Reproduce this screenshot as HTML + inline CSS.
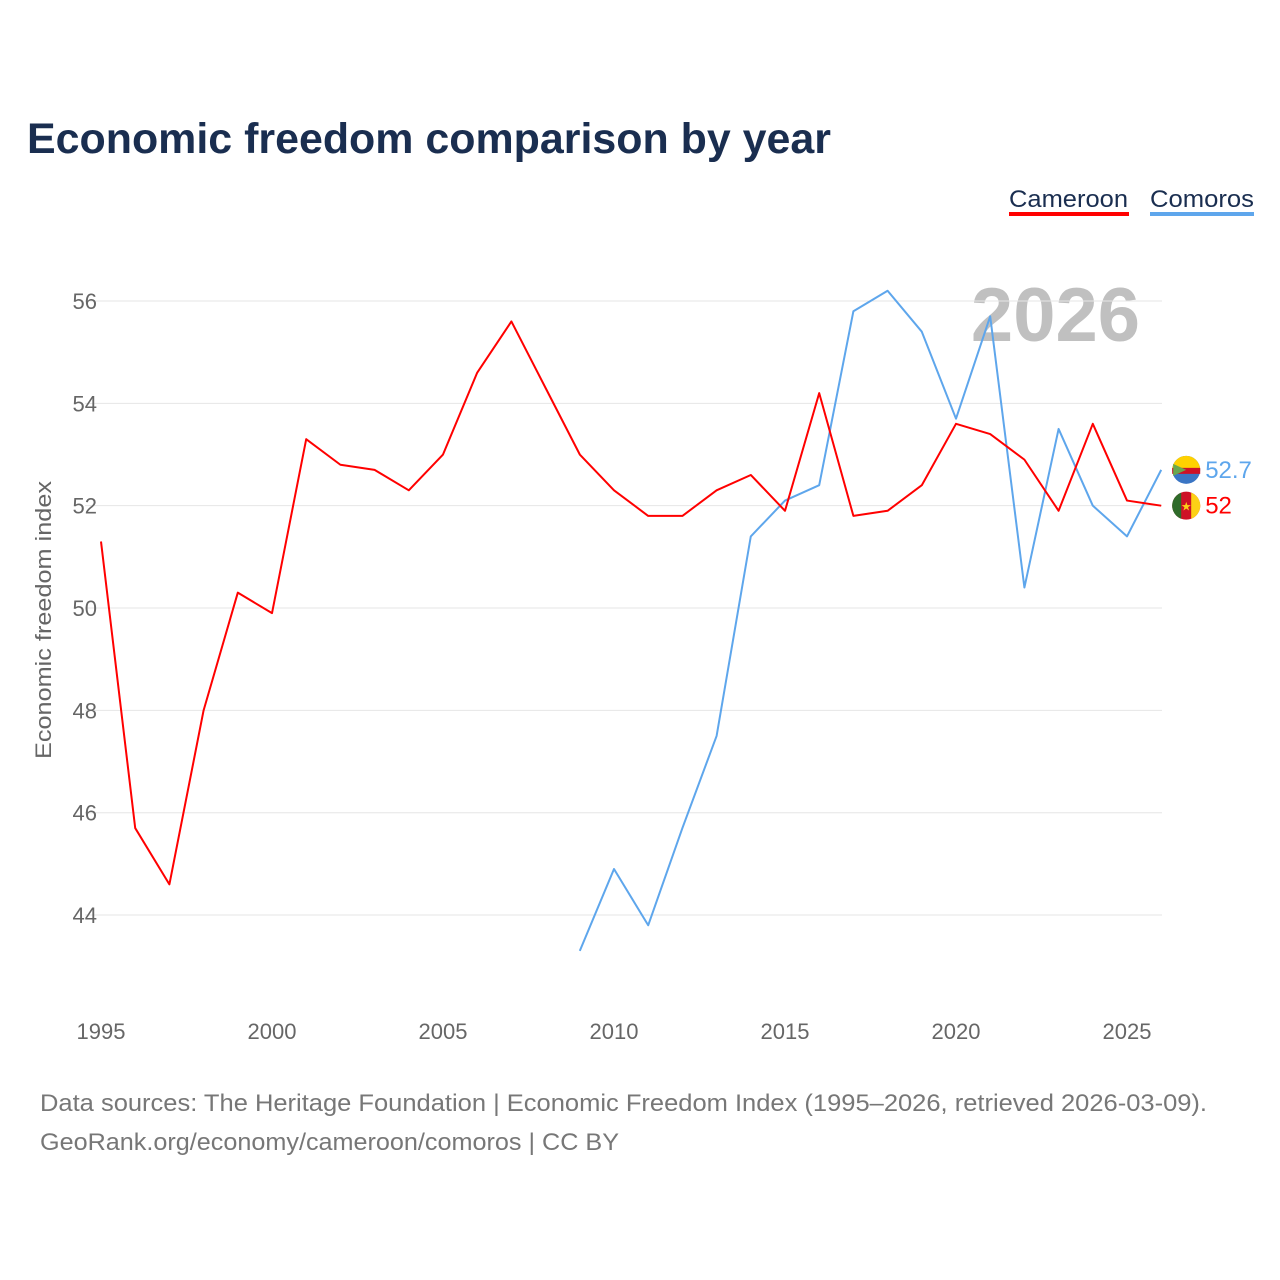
<!DOCTYPE html>
<html><head><meta charset="utf-8"><style>
body{margin:0;background:#fff;font-family:"Liberation Sans",sans-serif}
svg{display:block}
</style></head><body>
<svg id="c" width="1280" height="1280">
<text x="27" y="153" font-size="43" font-weight="bold" fill="#1a2e50" textLength="804" lengthAdjust="spacingAndGlyphs">Economic freedom comparison by year</text>
<g>
<text x="1009" y="207" font-size="24" fill="#1a2e50" textLength="119" lengthAdjust="spacingAndGlyphs">Cameroon</text>
<rect x="1009" y="212" width="120" height="4" fill="#ff0000"/>
<text x="1150" y="207" font-size="24" fill="#1a2e50" textLength="104" lengthAdjust="spacingAndGlyphs">Comoros</text>
<rect x="1150" y="212" width="104" height="4" fill="#5ea6ec"/>
</g>
<text x="1140" y="341" text-anchor="end" font-size="76" font-weight="bold" fill="#c0c0c0">2026</text>
<text transform="translate(51,620) rotate(-90)" text-anchor="middle" font-size="22" fill="#666" textLength="278" lengthAdjust="spacingAndGlyphs">Economic freedom index</text>
<g id="grid"></g><g id="lines"></g>
<text x="40" y="1111" font-size="24" fill="#777" textLength="1167" lengthAdjust="spacingAndGlyphs">Data sources: The Heritage Foundation | Economic Freedom Index (1995–2026, retrieved 2026-03-09).</text>
<text x="40" y="1150" font-size="24" fill="#777" textLength="579" lengthAdjust="spacingAndGlyphs">GeoRank.org/economy/cameroon/comoros | CC BY</text>
</svg>
<script>
const yTicks=[44,46,48,50,52,54,56];
const xTicks=[1995,2000,2005,2010,2015,2020,2025];
const camYears=[1995,1996,1997,1998,1999,2000,2001,2002,2003,2004,2005,2006,2007,2008,2009,2010,2011,2012,2013,2014,2015,2016,2017,2018,2019,2020,2021,2022,2023,2024,2025,2026];
const camVals=[51.3,45.7,44.6,48.0,50.3,49.9,53.3,52.8,52.7,52.3,53.0,54.6,55.6,54.3,53.0,52.3,51.8,51.8,52.3,52.6,51.9,54.2,51.8,51.9,52.4,53.6,53.4,52.9,51.9,53.6,52.1,52.0];
const comYears=[2009,2010,2011,2012,2013,2014,2015,2016,2017,2018,2019,2020,2021,2022,2023,2024,2025,2026];
const comVals=[43.3,44.9,43.8,45.7,47.5,51.4,52.1,52.4,55.8,56.2,55.4,53.7,55.7,50.4,53.5,52.0,51.4,52.7];
const NS="http://www.w3.org/2000/svg";
const xS=y=>101+(y-1995)*34.2;
const yS=v=>301+(56-v)*51.17;
const grid=document.getElementById('grid'),lines=document.getElementById('lines');
function mk(tag,attrs,parent,txt){const e=document.createElementNS(NS,tag);for(const k in attrs)e.setAttribute(k,attrs[k]);if(txt!==undefined)e.textContent=txt;parent.appendChild(e);return e;}
yTicks.forEach(t=>{
 const l=mk('line',{x1:85,x2:1162,y1:yS(t),y2:yS(t),stroke:'#e6e6e6','stroke-width':1},grid);
 
 
 const tx=mk('text',{x:97,y:yS(t)+8,'text-anchor':'end','font-size':22,fill:'#666'},grid,t);
 
 
});
xTicks.forEach(t=>{
 const tx=mk('text',{x:xS(t),y:1039,'text-anchor':'middle','font-size':22,fill:'#666'},grid,t);
 
 
});
function series(ys,vs,col,name){
 const p=mk('polyline',{points:ys.map((y,i)=>xS(y)+','+yS(vs[i])).join(' '),fill:'none',stroke:col,'stroke-width':2,'stroke-linejoin':'round'},lines);
 
 
 const lx=xS(ys[ys.length-1]), ly=yS(vs[vs.length-1]);
 const cx=lx+25;
 const g=mk('g',{},lines);
 
 
 if(name==='cameroon'){
  mk('circle',{cx:cx,cy:ly,r:14,fill:'#ce1126'},g);
  mk('path',{d:`M${cx-5},${ly-13.1} A14,14 0 0,0 ${cx-5},${ly+13.1} Z`,fill:'#2f6b2a'},g);
  mk('path',{d:`M${cx+5},${ly-13.1} A14,14 0 0,1 ${cx+5},${ly+13.1} Z`,fill:'#fcd116'},g);
  mk('text',{x:cx,y:ly+5,'text-anchor':'middle','font-size':12,fill:'#fcd116'},g,'★');
 } else {
  mk('circle',{cx:cx,cy:ly,r:14,fill:'#3a75c4'},g);
  mk('path',{d:`M${cx-14},${ly} A14,14 0 0,1 ${cx+14},${ly} Z`,fill:'#ffd100'},g);
  mk('rect',{x:cx-14,y:ly-2,width:28,height:6,fill:'#ce1126'},g);
  mk('path',{d:`M${cx-13},${ly-6} L${cx},${ly} L${cx-13},${ly+6} Z`,fill:'#6aa84f'},g);
 }
 const t=mk('text',{x:lx+44,y:ly+8,'font-size':24,fill:col},lines,vs[vs.length-1]);
 
 
}
series(comYears,comVals,'#5ea6ec','comoros');
series(camYears,camVals,'#ff0000','cameroon');
</script>
</body></html>
